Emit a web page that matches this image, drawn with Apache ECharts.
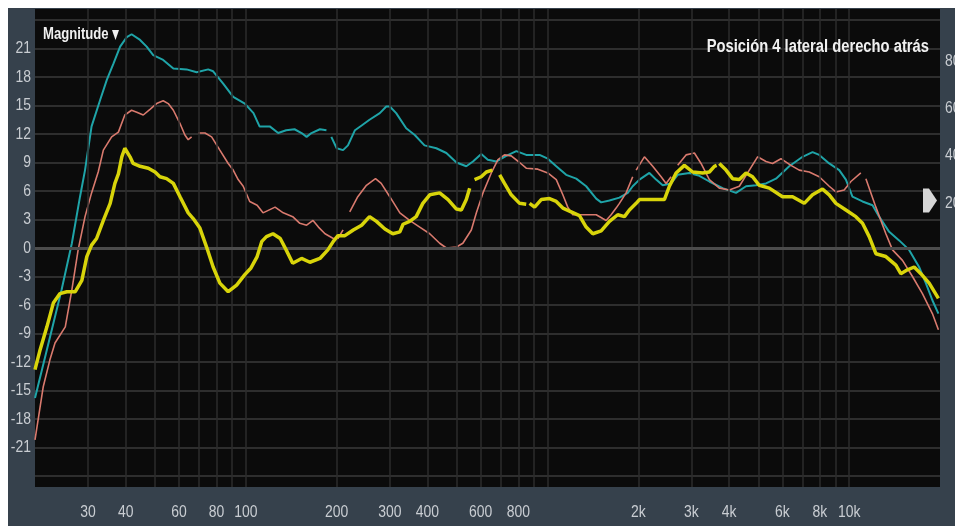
<!DOCTYPE html>
<html>
<head>
<meta charset="utf-8">
<script src="https://cdn.jsdelivr.net/npm/echarts@6/dist/echarts.min.js"></script>
<style>
  html, body { margin: 0; padding: 0; background: #ffffff; overflow: hidden; }
  #chart { width: 955px; height: 526px; }
</style>
</head>
<body>
<div id="chart"></div>
<script>
// Frequency-response measurements (Hz vs dB); null marks a break in the trace.
const cyanFreq = [20, 21.9, 24.5, 26.5, 28.2, 29.3, 30.8, 32.9, 34.6, 36.4, 38.3, 40.3, 41.8, 44.6, 46.9, 49.3, 53.2, 57.5, 63.6, 68.7, 75, 77.9, 84.1, 90.8, 99.2, 106, 111, 120, 128, 136, 145, 153, 159, 165, 176, 185, 188, 192, 200, 210, 218, 230, 242, 257, 278, 292, 300, 315, 340, 363, 391, 428, 462, 499, 538, 566, 603, 634, 676, 730, 788, 850, 941, 1002, 1069, 1153, 1245, 1343, 1450, 1506, 1604, 1731, 1845, 1916, 2017, 2176, 2291, 2409, 2568, 2701, 2953, 3186, 3439, 3806, 4215, 4550, 4910, 5300, 5719, 6329, 7005, 7560, 7956, 8586, 9267, 9752, 10250, 11070, 11950, 12570, 13570, 14640, 15800, 17050, 17950, 18870, 19760];
const cyanDb = [-15.8, -10.7, -4.4, 0.5, 5.4, 8.2, 12.8, 15.6, 17.7, 19.4, 21.2, 22.2, 22.5, 21.9, 21.2, 20.3, 19.8, 18.9, 18.8, 18.5, 18.8, 18.6, 17.3, 15.9, 15.2, 14.2, 12.8, 12.8, 12.1, 12.4, 12.5, 12.1, 11.7, 12.1, 12.5, 12.4, null, 11.7, 10.5, 10.3, 10.8, 12.4, 12.9, 13.5, 14.2, 14.9, 14.9, 14.2, 12.6, 11.9, 10.8, 10.5, 10.0, 9.0, 8.6, 9.1, 9.9, 9.3, 9.1, 9.7, 10.2, 9.8, 9.8, 9.4, 8.6, 7.7, 7.3, 6.5, 5.2, 4.8, 5.0, 5.3, 5.8, 6.5, 7.2, 7.9, 7.2, 6.6, 6.8, 7.7, 7.9, 7.6, 7.0, 6.3, 5.8, 6.5, 6.6, 6.8, 7.3, 8.6, 9.6, 10.1, 9.8, 8.9, 8.2, 7.2, 5.4, 4.9, 4.5, 3.3, 1.7, 0.8, -0.2, -2.0, -3.7, -5.5, -6.9];

const salmonFreq = [20, 21.3, 22.4, 23.3, 25.2, 26.5, 27.8, 29.3, 30.8, 32.4, 33.7, 35.9, 37.8, 39.7, 41.8, 43.5, 45.7, 48.1, 50.6, 53.2, 55.3, 57.5, 60.5, 62.8, 64.4, 66.1, 67.6, 69.5, 73.2, 77, 82, 87.4, 90.8, 94.3, 98, 103, 109, 114, 125, 133, 143, 151, 159, 167, 174, 183, 195, 202, 210, 215, 221, 235, 251, 269, 281, 300, 324, 349, 377, 407, 439, 462, 499, 524, 559, 581, 611, 651, 685, 720, 758, 808, 850, 929, 1002, 1069, 1124, 1167, 1213, 1309, 1450, 1524, 1564, 1625, 1688, 1731, 1822, 1916, 1940, 1967, 2095, 2232, 2380, 2472, 2568, 2630, 2701, 2879, 3068, 3228, 3439, 3711, 4005, 4323, 4605, 4970, 5300, 5572, 5940, 6411, 6830, 7371, 7956, 8586, 9036, 9626, 10130, 10930, 11150, 11360, 12260, 13230, 13920, 15020, 16210, 17490, 18870, 19760];
const salmonDb = [-20.2, -14.6, -11.8, -10.0, -8.3, -4.4, -0.2, 3.3, 5.8, 8.0, 10.3, 11.7, 12.2, 14.0, 14.5, 14.3, 14.0, 14.6, 15.2, 15.5, 15.2, 14.5, 13.1, 11.9, 11.4, 11.7, null, 12.1, 12.1, 11.7, 10.3, 8.9, 8.2, 7.2, 6.5, 4.9, 4.5, 3.7, 4.3, 3.7, 3.3, 2.6, 2.4, 2.9, 2.2, 1.5, 1.0, 1.0, 1.9, null, 3.8, 5.4, 6.6, 7.3, 6.8, 5.4, 3.7, 2.9, 2.2, 1.5, 0.5, 0.0, 0.1, 0.5, 1.9, 3.7, 5.8, 7.9, 9.3, 9.8, 9.7, 9.0, 8.4, 8.3, 7.9, 7.2, 5.6, 4.3, 3.5, 3.5, 3.5, 3.1, 2.9, 3.5, 4.2, 4.7, 5.8, 7.5, null, 8.2, 9.6, 8.6, 7.5, 6.8, 7.5, null, 8.7, 9.8, 10.0, 8.9, 7.2, 6.3, 6.1, 6.5, 7.9, 9.6, 9.1, 8.9, 9.4, 8.7, 8.2, 8.0, 7.5, 6.5, 5.9, 6.1, 7.0, 7.9, null, 7.3, 4.3, 1.5, -0.2, -1.3, -3.0, -4.8, -6.9, -8.6];

const yellowFreq = [20, 20.8, 21.9, 23, 24.2, 25.5, 27.2, 28.6, 29.7, 30.8, 32, 33.7, 35.5, 36.8, 37.8, 38.8, 39.7, 41.3, 42.3, 44.6, 47.5, 50, 51.9, 54.6, 57.5, 60.5, 64.4, 66.9, 70.4, 74.1, 77.9, 82, 87.4, 93.2, 99.2, 104, 109, 113, 117, 123, 130, 136, 143, 153, 163, 176, 187, 195, 202, 213, 227, 242, 257, 271, 289, 307, 324, 332, 349, 367, 386, 407, 439, 468, 499, 518, 538, 552, 562, 573, 603, 627, 656, 670, 694, 720, 758, 808, 850, 862, 872, 906, 953, 1015, 1069, 1124, 1198, 1276, 1343, 1413, 1506, 1604, 1709, 1799, 1868, 1967, 2017, 2176, 2440, 2535, 2668, 2842, 3028, 3267, 3439, 3573, 3636, 3670, 3711, 3906, 4107, 4323, 4550, 4784, 5035, 5435, 6013, 6491, 7096, 7560, 8158, 8586, 9036, 9752, 10520, 11070, 11650, 12260, 13230, 14280, 14830, 15600, 16420, 17280, 18410, 19760];
const yellowDb = [-12.8, -10.7, -8.3, -5.8, -4.8, -4.6, -4.6, -3.4, -0.9, 0.3, 1.0, 2.9, 4.7, 6.8, 7.8, 9.6, 10.5, 9.6, 8.9, 8.6, 8.4, 8.0, 7.5, 7.3, 6.8, 5.4, 3.7, 3.1, 2.1, 0.1, -2.0, -3.7, -4.6, -3.9, -2.8, -2.1, -0.9, 0.7, 1.2, 1.5, 1.0, -0.2, -1.6, -1.1, -1.5, -1.1, -0.2, 0.7, 1.3, 1.3, 1.9, 2.4, 3.3, 2.8, 2.0, 1.5, 1.7, 2.5, 2.8, 3.3, 4.7, 5.6, 5.8, 5.1, 4.1, 4.0, 5.1, 6.3, null, 7.2, 7.5, 8.0, 8.2, null, 7.7, 6.8, 5.6, 4.7, 4.6, null, 4.7, 4.3, 5.1, 5.2, 4.9, 4.2, 3.8, 3.4, 2.2, 1.5, 1.8, 2.8, 3.5, 3.3, 4.0, 4.7, 5.1, 5.1, 5.1, 6.5, 7.9, 8.7, 8.0, 7.9, 8.0, 8.6, 8.7, null, 8.9, 8.2, 7.3, 7.2, 7.9, 7.5, 6.6, 6.3, 5.4, 5.4, 4.7, 5.6, 6.2, 5.6, 4.7, 4.0, 3.3, 2.6, 1.2, -0.6, -0.9, -1.8, -2.7, -2.3, -2.0, -2.7, -3.7, -5.3];

// Axis ticks and labels
const freqGridLines = [30, 40, 50, 60, 70, 80, 90, 100, 200, 300, 400, 500, 600, 700, 800, 900, 1000, 2000, 3000, 4000, 5000, 6000, 7000, 8000, 9000, 10000];
const freqTickValues = [30, 40, 60, 80, 100, 200, 300, 400, 600, 800, 2000, 3000, 4000, 6000, 8000, 10000];
const freqTickLabels = ['30', '40', '60', '80', '100', '200', '300', '400', '600', '800', '2k', '3k', '4k', '6k', '8k', '10k'];
const dbTickValues = [21, 18, 15, 12, 9, 6, 3, 0, -3, -6, -9, -12, -15, -18, -21];
const levelTickValues = [80, 60, 40, 20];

const TITLE = 'Posición 4 lateral derecho atrás';
const MAG_LABEL = 'Magnitude';

// Liberation Sans squeezed horizontally gives the narrow face of the display.
const FONT = "'Liberation Sans', Arial, sans-serif";
const NARROW = 0.82;
const LABEL_COLOR = '#c9cdd2';

function pairs(freq, db) {
  return freq.map((f, i) => [f, db[i] === null ? '-' : db[i]]);
}

const chart = echarts.init(document.getElementById('chart'), null, { renderer: 'canvas' });

chart.setOption({
  animation: false,
  backgroundColor: '#36414c',
  grid: [
    { left: 35, right: 15, top: 20, bottom: 50, show: false, outerBoundsMode: 'none' },
    { left: 35, right: 15, top: 9, bottom: 39, show: true, backgroundColor: '#0b0b0b', borderWidth: 0, z: -1, outerBoundsMode: 'none' }
  ],
  xAxis: [
    {
      type: 'log', gridIndex: 0, min: 20, max: 20000, logBase: 10,
      axisLine: { show: false }, axisTick: { show: false }, splitLine: { show: false },
      axisLabel: { show: false }
    },
    { type: 'log', gridIndex: 1, min: 20, max: 20000, logBase: 10, show: false }
  ],
  yAxis: [
    {
      type: 'value', gridIndex: 0, min: -24, max: 24, interval: 3, z: 1,
      axisLine: { show: false }, axisTick: { show: false }, axisLabel: { show: false },
      splitLine: { show: true, lineStyle: { color: '#2e2e2e', width: 2 } }
    },
    {
      type: 'value', gridIndex: 1, position: 'right', min: -100, max: 101.9, interval: 20,
      axisLine: { show: false }, axisTick: { show: false }, splitLine: { show: false },
      axisLabel: { show: false }
    }
  ],
  series: [
    {
      // vertical frequency grid lines
      type: 'line', xAxisIndex: 1, yAxisIndex: 1, data: [], silent: true, z: 0,
      markLine: {
        silent: true, symbol: 'none', label: { show: false },
        lineStyle: { color: '#2c2c2c', width: 1.5, type: 'solid' },
        data: freqGridLines.map(v => ({ xAxis: v }))
      }
    },
    {
      // 0 dB reference
      type: 'line', xAxisIndex: 0, yAxisIndex: 0, data: [], silent: true, z: 1,
      markLine: {
        silent: true, symbol: 'none', label: { show: false },
        lineStyle: { color: '#4c4c4c', width: 3, type: 'solid' },
        data: [{ yAxis: 0 }]
      }
    },
    {
      name: 'Medición A', type: 'line', xAxisIndex: 0, yAxisIndex: 0, z: 3,
      data: pairs(cyanFreq, cyanDb), showSymbol: false, connectNulls: false,
      lineStyle: { color: '#1fa4a8', width: 2 }
    },
    {
      name: 'Medición B', type: 'line', xAxisIndex: 0, yAxisIndex: 0, z: 4,
      data: pairs(salmonFreq, salmonDb), showSymbol: false, connectNulls: false,
      lineStyle: { color: '#d97a6e', width: 1.6 }
    },
    {
      name: 'Medición C', type: 'line', xAxisIndex: 0, yAxisIndex: 0, z: 5,
      data: pairs(yellowFreq, yellowDb), showSymbol: false, connectNulls: false,
      lineStyle: { color: '#d8d40a', width: 3.5 }
    }
  ]
});

// Narrow text labels placed through the axes' own value-to-pixel mapping.
function narrowText(text, x, y, align, vAlign, font, fill) {
  return {
    type: 'text', x: x, y: y, scaleX: NARROW, z: 100, silent: true,
    style: {
      text: text, font: font, fill: fill,
      align: align, verticalAlign: vAlign,
      textAlign: align, textVerticalAlign: vAlign
    }
  };
}

const labelFont = "17px " + FONT;
const graphics = [
  { type: 'rect', shape: { x: 0, y: 0, width: 955, height: 8 }, style: { fill: '#ffffff' }, z: 100, silent: true },
  { type: 'rect', shape: { x: 0, y: 0, width: 8, height: 526 }, style: { fill: '#ffffff' }, z: 100, silent: true }
];

const plotLeft = chart.convertToPixel({ gridIndex: 0 }, [20, 0])[0];
const plotRight = chart.convertToPixel({ gridIndex: 1 }, [20000, 0])[0];
const plotBottom = chart.convertToPixel({ gridIndex: 1 }, [20, -100])[1];

dbTickValues.forEach(v => {
  const y = chart.convertToPixel({ gridIndex: 0 }, [20, v])[1];
  graphics.push(narrowText(String(v), plotLeft - 4, y, 'right', 'middle', labelFont, LABEL_COLOR));
});

freqTickValues.forEach((v, i) => {
  const x = chart.convertToPixel({ gridIndex: 0 }, [v, 0])[0];
  graphics.push(narrowText(freqTickLabels[i], x, plotBottom + 25, 'center', 'middle', labelFont, LABEL_COLOR));
});

levelTickValues.forEach(v => {
  const y = chart.convertToPixel({ gridIndex: 1 }, [20000, v])[1];
  graphics.push(narrowText(String(v), plotRight + 5, y, 'left', 'middle', labelFont, LABEL_COLOR));
});

// level pointer on the right scale
const pointerY = chart.convertToPixel({ gridIndex: 1 }, [20000, 21])[1];
graphics.push({
  type: 'polygon', z: 100, silent: true,
  shape: { points: [[plotRight - 17, pointerY - 12], [plotRight - 11, pointerY - 12], [plotRight - 3, pointerY], [plotRight - 11, pointerY + 12], [plotRight - 17, pointerY + 12]] },
  style: { fill: '#d6d6d6' }
});

// panel captions
graphics.push(narrowText(TITLE, plotRight - 11, 47, 'right', 'middle', "bold 18px " + FONT, '#f0f0f0'));
graphics.push(narrowText(MAG_LABEL, plotLeft + 8, 35, 'left', 'middle', "bold 16px " + FONT, '#f0f0f0'));
graphics.push({
  type: 'polygon', z: 100, silent: true,
  shape: { points: [[plotLeft + 77, 30], [plotLeft + 84, 30], [plotLeft + 80.5, 40]] },
  style: { fill: '#f0f0f0' }
});

chart.setOption({ graphic: graphics });
</script>
</body>
</html>
